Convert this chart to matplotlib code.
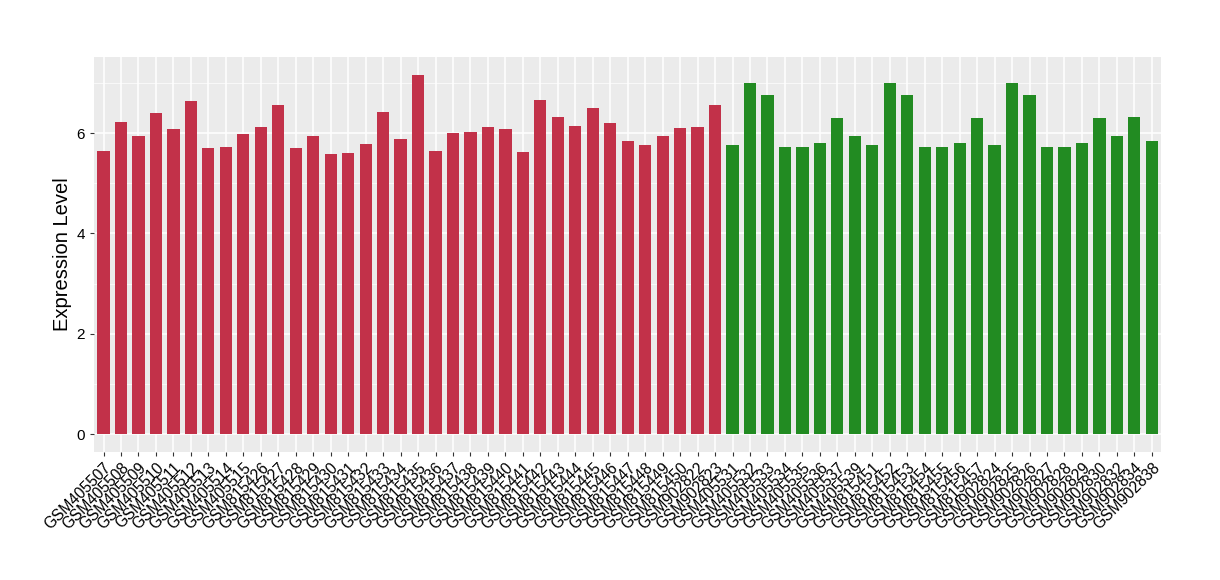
import matplotlib
matplotlib.use("Agg")
import matplotlib.pyplot as plt
from matplotlib.ticker import MultipleLocator

plt.rcParams["font.family"] = ["Liberation Sans", "DejaVu Sans"]

# samples and expression values, group 1 (red) then group 2 (green)
red_samples = (
    ["GSM4055%02d" % i for i in range(7, 16)]
    + ["GSM8154%02d" % i for i in range(26, 51)]
    + ["GSM902822", "GSM902823"]
)
red_values = [
    5.64, 6.22, 5.94, 6.40, 6.08, 6.64, 5.70, 5.72, 5.98,
    6.12, 6.56, 5.70, 5.94, 5.58, 5.60, 5.78, 6.42, 5.88, 7.16, 5.64,
    6.00, 6.02, 6.12, 6.08, 5.62, 6.66, 6.32, 6.14, 6.50, 6.20, 5.84,
    5.76, 5.94, 6.10, 6.12, 6.56,
]
green_samples = [
    "GSM405531", "GSM405532", "GSM405533", "GSM405534", "GSM405535",
    "GSM405536", "GSM405537", "GSM405539",
    "GSM815451", "GSM815452", "GSM815453", "GSM815454", "GSM815455",
    "GSM815456", "GSM815457",
    "GSM902824", "GSM902825", "GSM902826", "GSM902827", "GSM902828",
    "GSM902829", "GSM902830", "GSM902832", "GSM902834", "GSM902838",
]
green_values = [
    5.76, 7.00, 6.76, 5.72, 5.72, 5.80, 6.30, 5.94,
    5.76, 7.00, 6.76, 5.72, 5.72, 5.80, 6.30,
    5.76, 7.00, 6.76, 5.72, 5.72, 5.80, 6.30, 5.94, 6.32, 5.84,
]

samples = red_samples + green_samples
values = red_values + green_values
colors = ["#C23149"] * len(red_samples) + ["#228B22"] * len(green_samples)
x = list(range(len(samples)))

fig = plt.figure(figsize=(12.2, 5.8), dpi=100)
ax = fig.add_axes([0.077, 0.2207, 0.875, 0.681])
ax.set_facecolor("#EBEBEB")

ax.bar(x, values, width=0.7, color=colors, zorder=3)

ymax = max(values)
ax.set_ylim(-0.05 * ymax, ymax * 1.05)
ax.set_xlim(-0.55, len(samples) - 0.45)

ax.yaxis.set_major_locator(MultipleLocator(2))
ax.yaxis.set_minor_locator(MultipleLocator(1))
ax.grid(which="major", axis="both", color="white", linewidth=1.1, zorder=0)
ax.grid(which="minor", axis="y", color="white", linewidth=0.5, zorder=0)
ax.set_axisbelow(True)

ax.set_xticks(x)
ax.set_xticklabels(samples, rotation=45, ha="right", va="top",
                   rotation_mode="anchor", fontsize=11.2)
ax.tick_params(axis="x", length=3, color="#333333", pad=3)
ax.tick_params(axis="y", length=3, color="#333333", labelsize=11)
ax.tick_params(which="minor", length=0)

for spine in ax.spines.values():
    spine.set_visible(False)

ax.set_ylabel("Expression Level", fontsize=14.5, labelpad=3)

fig.savefig("out.png", dpi=100)
